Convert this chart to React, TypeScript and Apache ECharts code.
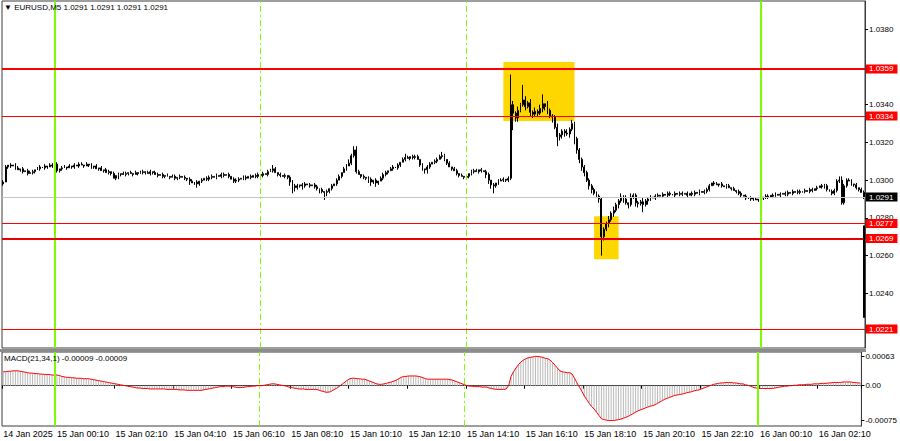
import React, { useEffect, useRef } from 'react';
import * as echarts from 'echarts';

// ---------- data ----------
const symbolName = 'EURUSD,M5';
const firstOpenPips = 298; // price = 1 + pips/10000
const closePips: number[] = [
  299, 307, 308, 307.5, 308, 306.5, 305.5, 306, 304.5, 305, 303.5, 304,
  304.5, 305.5, 306, 307, 306.5, 307.5, 307, 308, 307.5, 308.5, 305, 306,
  306.5, 307, 306.5, 307.5, 307, 308, 307.5, 308.5, 308, 307.5, 308.5, 308,
  307, 307.5, 306, 306.5, 305, 305.5, 304, 304.5, 303.5, 301, 302.5, 303,
  303.5, 303, 303.5, 304, 303.5, 303, 304, 303.5, 304, 304.5, 304, 303.5,
  304.5, 304, 303, 302.5, 303, 302, 302.5, 302, 301.5, 302, 301, 301.5,
  302, 301.5, 301, 300.5, 299.5, 298.5, 299, 298, 299.5, 300, 301, 300.5,
  301.5, 302, 301.5, 302.5, 302, 303, 302.5, 303, 302, 300.5, 299.5, 300,
  300.5, 301, 301.5, 301, 302, 301.5, 302.5, 302, 303, 302.5, 303.5, 303,
  304.5, 305, 306, 304, 303, 302.5, 302, 302.5, 301.5, 299, 297, 296,
  297, 297.5, 297, 298, 297.5, 297, 297.5, 296.5, 295.5, 295, 294, 293.5,
  294, 295.5, 297, 298, 300, 302, 304, 306, 307.5, 309, 313, 316,
  304.5, 303, 302, 301.5, 301, 300.5, 299, 300, 298.5, 299.5, 301, 303,
  304, 305, 306, 307, 306.5, 308, 309.5, 311, 312, 311.5, 312.5, 312,
  312.5, 311, 308, 306, 305.5, 307, 308.5, 309.5, 310, 311, 312.5, 313,
  311, 309, 307, 306, 305, 303.5, 302.5, 302, 301.5, 302, 303.5, 304.5,
  305, 304.5, 305.5, 305, 304.5, 303, 300, 297.5, 297, 298.5, 299.5, 300,
  300.5, 300, 301, 340, 335.5, 333, 337, 340, 342.5, 339, 341, 336,
  335, 336.5, 335.5, 338, 340.5, 339, 337, 334, 333.5, 328, 323, 324,
  326, 325, 324.5, 327, 330, 322, 316, 311, 307, 304, 300, 297,
  295, 293, 291.5, 290, 270, 274, 277, 279, 282.5, 284, 287, 289,
  291, 290, 288, 287, 291, 292, 288, 287.5, 288.5, 287, 289, 290,
  291, 290.5, 291.5, 292, 291.5, 292.5, 292, 293, 292.5, 292, 293, 292.5,
  293, 292.5, 293, 292, 293, 292.5, 293.5, 293, 294, 293.5, 294, 295,
  297, 298.5, 298, 297.5, 298, 297, 296.5, 297, 296, 295.5, 294.5, 294,
  293, 292, 291.5, 290.5, 290, 290.5, 290, 289.5, 290, 290.5, 291, 291.5,
  291, 292, 291.5, 292.5, 292, 292.5, 293, 292.5, 293.5, 293, 294, 293.5,
  294, 293.5, 294, 294.5, 294, 295, 294.5, 295.5, 296, 297, 296.5, 297,
  295, 294, 293, 294.5, 299.5, 300, 288, 297, 300, 299.5, 298, 297.5,
  296, 295, 293.5, 291,
];
// wick lengths in pips per bar (base-36 digits)
const wickUpPips = [
  '110101101011', '101101011010', '110101011010', '101010110101',
  '011010101101', '101101010110', '101011010101', '110101101011',
  '101101011010', '112101010111', '101101011010', '101011011212',
  '210101101011', '101101012101', '110101101112', '101011010101',
  '110101101011', '101g21218212', '121250311121', '112121111111',
  '111111121211', '212021111211', '101101011010', '110101101011',
  '101101011010', '110101010101', '101101011010', '110101101011',
  '101112211110', '1011',
].join('');
const wickDownPips = [
  '101101011010', '110101101011', '101011010101', '110101011012',
  '101101010110', '110101101011', '101120121101', '110101101011',
  '101101011010', '101011011242', '112101011214', '211010101011',
  '101112212101', '110101101011', '101122101101', '110101101011',
  '101102224110', '111192211212', '212122213152', '221213222212',
  '2112a2121212', '121211221412', '101101011010', '110101101011',
  '101011010101', '110101101011', '101101011010', '110101101011',
  '101111111011', '1101',
].join('');
// MACD(21,34,1) main values in units of 1e-5
const macdE5: number[] = [
  30, 30, 31, 31, 32, 32, 32, 31, 30, 29, 28, 27,
  27, 26, 26, 25, 25, 24, 24, 24, 23, 23, 23, 22,
  20, 19, 18, 18, 17, 17, 16, 16, 16, 15, 15, 15,
  14, 13, 12, 11, 10, 9, 8, 7, 6, 5, 4, 3,
  2, 1, 0, -1, -2, -3, -4, -5, -5, -6, -6, -6,
  -7, -7, -7, -7, -7, -7, -7, -8, -8, -8, -8, -8,
  -9, -9, -9, -10, -10, -10, -10, -10, -10, -10, -9, -8,
  -7, -6, -5, -4, -3, -2, -2, -1, -1, -1, -2, -3,
  -4, -4, -4, -3, -2, -2, -1, -1, 0, 0, 0, 1,
  2, 3, 4, 4, 3, 2, 1, 0, -1, -3, -4, -5,
  -6, -7, -7, -7, -8, -8, -8, -8, -8, -9, -11, -12,
  -14, -14, -13, -10, -7, -4, 0, 4, 8, 12, 15, 16,
  16, 15, 15, 14, 14, 12, 10, 8, 6, 4, 3, 3,
  4, 5, 7, 8, 10, 12, 15, 18, 20, 20, 21, 21,
  21, 21, 20, 19, 17, 15, 14, 14, 14, 14, 14, 14,
  14, 14, 14, 13, 12, 10, 8, 6, 4, 2, 0, -1,
  -1, -2, -2, -2, -3, -3, -3, -5, -6, -7, -8, -8,
  -8, -8, -7, 0, 20, 30, 38, 45, 51, 55, 58, 60,
  61, 62, 63, 63, 62, 61, 59, 58, 55, 50, 44, 38,
  32, 30, 29, 28, 28, 25, 16, 6, -3, -12, -22, -30,
  -38, -45, -50, -57, -64, -71, -73, -74, -75, -75, -75, -74,
  -73, -72, -70, -68, -66, -63, -60, -57, -54, -52, -50, -48,
  -46, -44, -43, -41, -38, -35, -32, -29, -27, -25, -23, -21,
  -20, -19, -18, -17, -15, -14, -13, -11, -10, -9, -7, -5,
  -3, -1, 1, 3, 4, 5, 6, 6, 7, 7, 7, 6,
  6, 5, 4, 4, 2, 1, -1, -3, -5, -5, -6, -6,
  -6, -6, -6, -6, -5, -4, -3, -2, -1, -1, 0, 0,
  1, 1, 2, 2, 2, 3, 3, 3, 4, 4, 4, 5,
  5, 5, 6, 6, 7, 7, 7, 7, 8, 8, 8, 8,
  7, 7, 6, 6,
];
const macdReadout = '-0.00009';
const levelPrices = [1.0359, 1.0334, 1.0277, 1.0269, 1.0221];
const bidPrice = 1.0291;
const sessionLineBars = [21, 105, 189, 309];
const zoneBoxes = [
  { from: 204, to: 233, top: 1.03626, bottom: 1.03313 },
  { from: 241, to: 251, top: 1.02809, bottom: 1.02581 },
];
const glitchSpan = [1.0276, 1.0227];
const priceTicks = [1.024, 1.026, 1.028, 1.03, 1.032, 1.034, 1.038];
const macdTicks = [0.00063, 0, -0.00075];
const firstBarUTC = Date.UTC(2025, 0, 14, 22, 20);
const barMinutes = 5;
const firstTimeLabelBar = 22;
const timeLabelEvery = 24;
const MONTHS = ['Jan', 'Feb', 'Mar', 'Apr', 'May', 'Jun', 'Jul', 'Aug', 'Sep', 'Oct', 'Nov', 'Dec'];

// ---------- derived ----------
const toPrice = (p: number) => Math.round((10000 + p) * 10) / 100000;
const pad = (n: number) => (n < 10 ? '0' + n : '' + n);
const times = closePips.map((_, i) => {
  const d = new Date(firstBarUTC + i * barMinutes * 60000);
  return `${d.getUTCDate()} ${MONTHS[d.getUTCMonth()]} ${pad(d.getUTCHours())}:${pad(d.getUTCMinutes())}`;
});
const d0 = new Date(firstBarUTC);
const firstLabel = `${d0.getUTCDate()} ${MONTHS[d0.getUTCMonth()]} ${d0.getUTCFullYear()}`;
const candles = closePips.map((c, i) => {
  const o = i === 0 ? firstOpenPips : closePips[i - 1];
  const up = parseInt(wickUpPips[i] || '0', 36) || 0;
  const dn = parseInt(wickDownPips[i] || '0', 36) || 0;
  const hi = Math.max(o, c) + up;
  const lo = Math.min(o, c) - dn;
  return [toPrice(o), toPrice(c), toPrice(lo), toPrice(hi)];
});
const macd = macdE5.map((v) => v / 100000);
const lastPrice = toPrice(closePips[closePips.length - 1]).toFixed(4);

const FONT = '"Liberation Sans", Arial, sans-serif';
const showTimeLabel = (idx: number) => idx === 0 || (idx - firstTimeLabelBar) % timeLabelEvery === 0;

export default function App() {
  const ref = useRef<HTMLDivElement>(null);
  useEffect(() => {
    if (!ref.current) return;
    const chart = echarts.init(ref.current, undefined, { renderer: 'svg' });
    const levelWidths = [2, 1, 1, 2, 1];
    const levelColors = ['#ff0000', '#ff0000', '#ff0000', '#e80000', '#ff0000'];
    const tagLabel = (text: string, bg: string) => ({
      show: true,
      position: 'end',
      distance: 1,
      formatter: text,
      color: '#ffffff',
      backgroundColor: bg,
      padding: [1, 4, 0, 3],
      fontSize: 8,
      fontFamily: FONT,
    });
    const sessionLines = sessionLineBars.map((b, i) => ({
      xAxis: b,
      lineStyle: {
        color: '#7CFC00',
        width: i === 0 || i === 3 ? 2 : 1,
        type: i === 0 || i === 3 ? 'solid' : [6, 3, 2, 3],
        opacity: 1,
      },
    }));
    const option: any = {
      animation: false,
      backgroundColor: '#ffffff',
      grid: [
        { left: 2, top: 1, width: 863, height: 347, show: true, borderColor: '#3c3c3c', borderWidth: 1 },
        { left: 2, top: 352, width: 863, height: 74, show: true, borderColor: '#3c3c3c', borderWidth: 1 },
      ],
      xAxis: [
        {
          type: 'category', gridIndex: 0, data: times, boundaryGap: true,
          axisLine: { show: false }, axisTick: { show: false }, axisLabel: { show: false }, splitLine: { show: false },
        },
        {
          type: 'category', gridIndex: 1, data: times, boundaryGap: true,
          axisLine: { show: true, lineStyle: { color: '#3c3c3c' } },
          axisTick: { show: true, interval: showTimeLabel, length: 3, lineStyle: { color: '#000' } },
          axisLabel: {
            interval: showTimeLabel,
            formatter: (v: string, i: number) => (i === 0 ? firstLabel : v),
            align: 'left', fontSize: 9, color: '#000', fontFamily: FONT, margin: 3,
          },
          splitLine: { show: false },
        },
      ],
      yAxis: [
        {
          type: 'value', gridIndex: 0, position: 'right', min: 1.021099, max: 1.0395, scale: true,
          axisLine: { show: true, lineStyle: { color: '#3c3c3c' } },
          axisTick: { show: true, length: 3, customValues: priceTicks, lineStyle: { color: '#000' } },
          axisLabel: {
            customValues: priceTicks, formatter: (v: number) => v.toFixed(4),
            fontSize: 8, color: '#000', fontFamily: FONT, margin: 4,
          },
          splitLine: { show: false },
        },
        {
          type: 'value', gridIndex: 1, position: 'right', min: -0.000867, max: 0.000725, scale: true,
          axisLine: { show: true, lineStyle: { color: '#3c3c3c' } },
          axisTick: { show: true, length: 3, customValues: macdTicks, lineStyle: { color: '#000' } },
          axisLabel: {
            customValues: macdTicks, formatter: (v: number) => (v === 0 ? '0.00' : v.toFixed(5)),
            fontSize: 8, color: '#000', fontFamily: FONT, margin: 4,
          },
          splitLine: { show: false },
        },
      ],
      series: [
        {
          type: 'line', xAxisIndex: 0, yAxisIndex: 0, data: [], z: 1, silent: true,
          markArea: {
            silent: true,
            itemStyle: { color: '#FFD700' },
            data: zoneBoxes.map((b) => [{ xAxis: b.from, yAxis: b.top }, { xAxis: b.to, yAxis: b.bottom }]),
          },
          markLine: {
            silent: true, symbol: ['none', 'none'], precision: 5,
            label: { show: false },
            data: [
              { yAxis: bidPrice, lineStyle: { color: '#c8c8c8', width: 1, type: 'solid' }, label: tagLabel(bidPrice.toFixed(4), '#000000') },
              ...sessionLines,
            ],
          },
        },
        {
          type: 'candlestick', xAxisIndex: 0, yAxisIndex: 0, data: candles, barWidth: 1.4, z: 3,
          itemStyle: { color: '#ffffff', color0: '#000000', borderColor: '#000000', borderColor0: '#000000', borderWidth: 1 },
        },
        {
          type: 'line', xAxisIndex: 0, yAxisIndex: 0, data: [], z: 5, silent: true,
          markLine: {
            silent: true, symbol: ['none', 'none'], precision: 5,
            label: { show: false },
            data: [
              ...levelPrices.map((p, i) => ({
                yAxis: p,
                lineStyle: { color: levelColors[i], width: levelWidths[i], type: 'solid', opacity: 1 },
                label: tagLabel(p.toFixed(4), '#ff0000'),
              })),
              [
                { coord: [closePips.length - 1, glitchSpan[0]], lineStyle: { color: '#000', width: 2, type: 'solid' } },
                { coord: [closePips.length - 1, glitchSpan[1]] },
              ],
            ],
          },
        },
        {
          type: 'bar', xAxisIndex: 1, yAxisIndex: 1, data: macd, barWidth: 1, z: 2,
          itemStyle: { color: '#b8b8b8' },
          markLine: {
            silent: true, symbol: ['none', 'none'], label: { show: false },
            data: sessionLines,
          },
        },
        {
          type: 'line', xAxisIndex: 1, yAxisIndex: 1, data: macd, z: 4, symbol: 'none', showSymbol: false,
          lineStyle: { color: '#ff0000', width: 1 },
        },
      ],
      graphic: [
        {
          type: 'rect', shape: { x: 0, y: 349, width: 866, height: 3 }, style: { fill: '#8c8c8c' }, z: 10,
        },
        {
          type: 'text', x: 4, y: 3, z: 10,
          style: { text: `▼ ${symbolName} ${lastPrice} ${lastPrice} ${lastPrice} ${lastPrice}`, fill: '#000', font: `8px ${FONT}`, verticalAlign: 'top' },
        },
        {
          type: 'text', x: 4, y: 354, z: 10,
          style: { text: `MACD(21,34,1) ${macdReadout} ${macdReadout}`, fill: '#000', font: `8px ${FONT}`, verticalAlign: 'top' },
        },
      ],
    };
    chart.setOption(option);
    return () => chart.dispose();
  }, []);
  return <div ref={ref} style={{ position: 'fixed', left: 0, top: 0, width: 900, height: 441 }} />;
}
